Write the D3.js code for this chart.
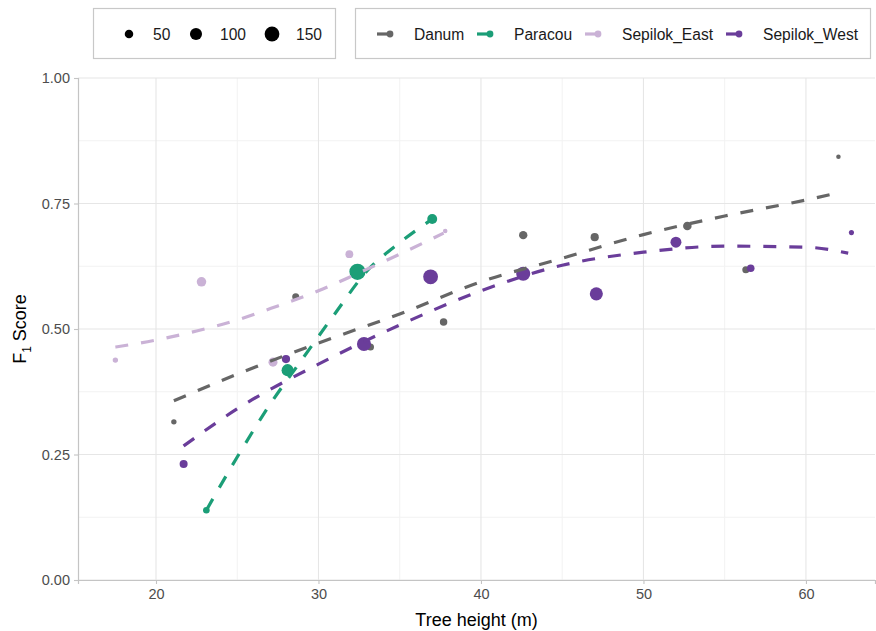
<!DOCTYPE html>
<html>
<head>
<title>F1 score vs tree height</title>
<script src="https://cdn.jsdelivr.net/npm/d3@7"></script>
<style>
body { margin: 0; background: #fff; }
svg { font-family: "Liberation Sans", Arial, sans-serif; }
</style>
</head>
<body>
<svg id="chart" width="876" height="631"></svg>
<script>
// sites in legend order
var sites = ['Danum', 'Paracou', 'Sepilok_East', 'Sepilok_West'];
var siteColors = ['#666666', '#1b9e77', '#cab2d6', '#6a3d9a'];
var sizeBreaks = [50, 100, 150];
var xTicks = [20, 30, 40, 50, 60];
var yTicks = [0, 0.25, 0.5, 0.75, 1];

// observed points: height (m), F1, number of trees
var danumX = [21.1, 28.6, 33.2, 37.7, 42.6, 47.0, 52.7, 56.3, 62.0];
var danumY = [0.315, 0.564, 0.464, 0.514, 0.687, 0.683, 0.705, 0.618, 0.843];
var danumN = [20, 34, 34, 38, 48, 46, 50, 34, 14];

var paracouX = [23.1, 28.1, 32.4, 37.0];
var paracouY = [0.139, 0.418, 0.614, 0.719];
var paracouN = [30, 100, 180, 68];

var eastX = [17.5, 22.8, 27.2, 31.9, 37.8];
var eastY = [0.438, 0.594, 0.434, 0.649, 0.695];
var eastN = [20, 62, 56, 42, 14];

var westX = [21.7, 28.0, 32.8, 36.9, 42.6, 47.1, 52.0, 56.6, 62.8];
var westY = [0.231, 0.440, 0.470, 0.604, 0.610, 0.570, 0.673, 0.621, 0.692];
var westN = [44, 46, 136, 150, 136, 117, 82, 40, 18];

// fitted trend lines
var danumFitX = [21.1, 25, 30, 35, 40, 45, 50, 55, 60, 62.2];
var danumFitY = [0.357, 0.41, 0.472, 0.530, 0.594, 0.641, 0.688, 0.725, 0.757, 0.773];

var paracouFitX = [23.1, 25, 27, 29, 31, 33, 35, 37];
var paracouFitY = [0.139, 0.245, 0.349, 0.440, 0.530, 0.616, 0.672, 0.719];

var eastFitX = [17.5, 20, 22.5, 25, 27.5, 30, 32.5, 35, 37.7];
var eastFitY = [0.464, 0.478, 0.496, 0.518, 0.546, 0.576, 0.612, 0.649, 0.691];

var westFitX = [21.7, 25, 30, 35, 40, 45, 50, 55, 60, 62.6];
var westFitY = [0.267, 0.341, 0.430, 0.508, 0.576, 0.627, 0.653, 0.665, 0.663, 0.651];

var series = [
  {site: 'Danum', x: danumX, y: danumY, n: danumN, fx: danumFitX, fy: danumFitY},
  {site: 'Paracou', x: paracouX, y: paracouY, n: paracouN, fx: paracouFitX, fy: paracouFitY},
  {site: 'Sepilok_East', x: eastX, y: eastY, n: eastN, fx: eastFitX, fy: eastFitY},
  {site: 'Sepilok_West', x: westX, y: westY, n: westN, fx: westFitX, fy: westFitY}
];

var svg = d3.select('#chart');
var pLeft = 78, pRight = 875, pTop = 78, pBottom = 580;

var x = d3.scaleLinear().domain([15.2, 64.25]).range([pLeft, pRight]);
var y = d3.scaleLinear().domain([0, 1]).range([pBottom, pTop]);
var color = d3.scaleOrdinal().domain(sites).range(siteColors);
var size = d3.scaleSqrt().domain([0, 150]).range([0, 7.4]);

// grid
var minorX = [25, 35, 45, 55];
var minorY = [0.125, 0.375, 0.625, 0.875];
var grid = svg.append('g');
grid.selectAll('.mx').data(minorX).enter().append('line')
  .attr('x1', d => x(d)).attr('x2', d => x(d)).attr('y1', pTop).attr('y2', pBottom)
  .attr('stroke', '#f2f2f2').attr('stroke-width', 1);
grid.selectAll('.my').data(minorY).enter().append('line')
  .attr('x1', pLeft).attr('x2', pRight).attr('y1', d => y(d)).attr('y2', d => y(d))
  .attr('stroke', '#f2f2f2').attr('stroke-width', 1);
grid.selectAll('.gx').data(xTicks).enter().append('line')
  .attr('x1', d => x(d)).attr('x2', d => x(d)).attr('y1', pTop).attr('y2', pBottom)
  .attr('stroke', '#e6e6e6').attr('stroke-width', 1.1);
grid.selectAll('.gy').data(yTicks).enter().append('line')
  .attr('x1', pLeft).attr('x2', pRight).attr('y1', d => y(d)).attr('y2', d => y(d))
  .attr('stroke', '#e6e6e6').attr('stroke-width', 1.1);

// axes
var xAxis = svg.append('g').attr('transform', 'translate(0,' + pBottom + ')')
  .call(d3.axisBottom(x).tickValues(xTicks).tickSize(4).tickPadding(5));
var yAxis = svg.append('g').attr('transform', 'translate(' + pLeft + ',0)')
  .call(d3.axisLeft(y).tickValues(yTicks).tickFormat(d3.format('.2f')).tickSize(4).tickPadding(4));
[xAxis, yAxis].forEach(function(a) {
  a.select('.domain').attr('stroke', '#c4c4c4').attr('stroke-width', 1.2);
  a.selectAll('.tick line').attr('stroke', '#c4c4c4').attr('stroke-width', 1.1);
  a.selectAll('text').attr('fill', '#4d4d4d').style('font-size', '14.5px')
    .style('font-family', '"Liberation Sans", Arial, sans-serif');
});

// points
var pts = svg.append('g');
series.forEach(function(s) {
  pts.selectAll(null).data(d3.range(s.x.length)).enter().append('circle')
    .attr('cx', i => x(s.x[i]))
    .attr('cy', i => y(s.y[i]))
    .attr('r', i => size(s.n[i]))
    .attr('fill', color(s.site));
});

// trend lines
var line = d3.line().curve(d3.curveMonotoneX);
series.forEach(function(s) {
  svg.append('path')
    .datum(d3.range(s.fx.length).map(i => [x(s.fx[i]), y(s.fy[i])]))
    .attr('d', line)
    .attr('fill', 'none')
    .attr('stroke', color(s.site))
    .attr('stroke-width', 3.2)
    .attr('stroke-dasharray', '13,13');
});

// axis titles
svg.append('text').attr('x', (pLeft + pRight) / 2).attr('y', 626)
  .attr('text-anchor', 'middle').style('font-size', '18px').attr('fill', '#000')
  .text('Tree height (m)');
var yt = svg.append('text').attr('transform', 'translate(26,' + ((pTop + pBottom) / 2) + ') rotate(-90)')
  .attr('text-anchor', 'middle').style('font-size', '18px').attr('fill', '#000');
yt.append('tspan').text('F');
yt.append('tspan').attr('dy', 5).style('font-size', '12px').text('1');
yt.append('tspan').attr('dy', -5).text(' Score');

// size legend
var sl = svg.append('g');
sl.append('rect').attr('x', 93.5).attr('y', 8.5).attr('width', 242).attr('height', 50)
  .attr('fill', '#fff').attr('stroke', '#c8c8c8').attr('stroke-width', 1.2);
var sizeKeyX = [129, 196, 272];
sizeBreaks.forEach(function(b, i) {
  sl.append('circle').attr('cx', sizeKeyX[i]).attr('cy', 34).attr('r', size(b)).attr('fill', '#000');
  sl.append('text').attr('x', sizeKeyX[i] + 24).attr('y', 39.5).style('font-size', '15.6px')
    .attr('fill', '#1a1a1a').text(b);
});

// colour legend
var cl = svg.append('g');
cl.append('rect').attr('x', 355.5).attr('y', 8.5).attr('width', 515).attr('height', 50)
  .attr('fill', '#fff').attr('stroke', '#c8c8c8').attr('stroke-width', 1.2);
var keyX = [377, 477, 585, 726];
sites.forEach(function(s, i) {
  cl.append('line').attr('x1', keyX[i]).attr('x2', keyX[i] + 13).attr('y1', 34).attr('y2', 34)
    .attr('stroke', color(s)).attr('stroke-width', 3.2);
  cl.append('circle').attr('cx', keyX[i] + 13).attr('cy', 34).attr('r', 3.4).attr('fill', color(s));
  cl.append('text').attr('x', keyX[i] + 37).attr('y', 39.5).style('font-size', '15.6px')
    .attr('fill', '#1a1a1a').text(s);
});
</script>
</body>
</html>
